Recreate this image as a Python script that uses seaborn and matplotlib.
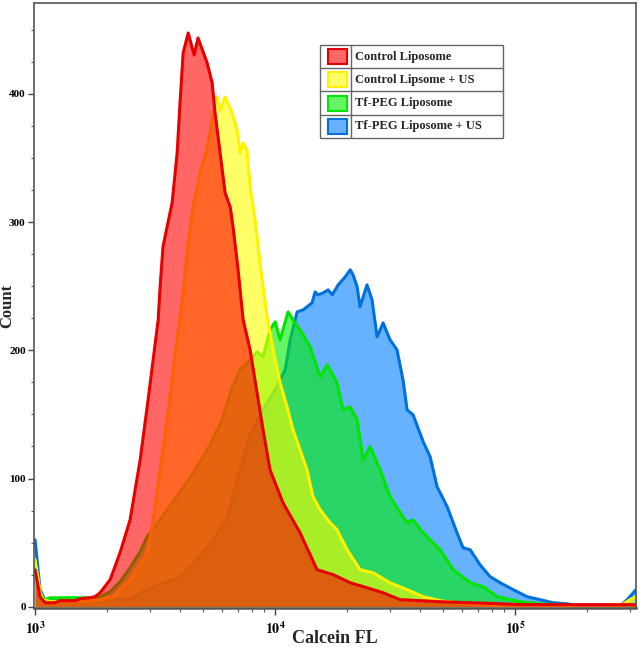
import numpy as np
import pandas as pd
import matplotlib
matplotlib.use("Agg")
import matplotlib.pyplot as plt
import seaborn as sns
from matplotlib.patches import Rectangle
from matplotlib.lines import Line2D
from matplotlib.ticker import FixedLocator, MultipleLocator, NullFormatter

sns.set_theme(style="ticks")
plt.rcParams['font.family'] = ['Liberation Serif', 'DejaVu Serif']
plt.rcParams['mathtext.fontset'] = 'stix'

# sample names (legend order)
samples = ["Control Liposome", "Control Lipsome + US", "Tf-PEG Liposome", "Tf-PEG Liposome + US"]

# histograms: log10(Calcein FL) and count
red_log = [3.000, 3.021, 3.042, 3.083, 3.104, 3.167, 3.188, 3.229, 3.250, 3.271, 3.313, 3.354,
           3.396, 3.438, 3.471, 3.492, 3.513, 3.521, 3.533, 3.550, 3.571, 3.592, 3.604, 3.617,
           3.638, 3.663, 3.679, 3.717, 3.738, 3.750, 3.771, 3.792, 3.813, 3.825, 3.846, 3.867,
           3.896, 3.950, 3.979, 4.033, 4.104, 4.175, 4.242, 4.313, 4.383, 4.450, 4.521, 4.604,
           4.688, 4.813, 4.938, 5.021, 5.504]
red_count = [28.9, 7.8, 3.1, 3.1, 4.7, 4.7, 6.2, 7.0, 7.8, 10.9, 21.1, 42.1,
             67.8, 114.6, 161.4, 192.6, 223.8, 249.5, 280.7, 296.3, 315.0, 354.0, 393.0, 432.0,
             447.6, 430.4, 443.7, 424.2, 408.6, 385.2, 354.0, 322.8, 311.9, 296.3, 262.8, 223.8,
             200.4, 138.0, 106.8, 81.1, 57.7, 28.9, 25.0, 18.7, 14.8, 10.9, 5.5, 4.7,
             3.9, 3.1, 2.3, 1.6, 1.6]

yellow_log = [3.000, 3.021, 3.033, 3.063, 3.229, 3.271, 3.325, 3.396, 3.467, 3.492, 3.521, 3.550,
              3.583, 3.617, 3.633, 3.658, 3.688, 3.717, 3.738, 3.750, 3.758, 3.771, 3.792, 3.821,
              3.842, 3.854, 3.867, 3.883, 3.896, 3.917, 3.938, 3.967, 3.992, 4.021, 4.050, 4.075,
              4.104, 4.133, 4.158, 4.188, 4.229, 4.258, 4.300, 4.354, 4.408, 4.479, 4.550, 4.617,
              4.688, 4.758, 4.854, 4.938, 5.438, 5.479, 5.504]
yellow_count = [36.6, 11.7, 5.5, 3.9, 4.7, 5.5, 7.8, 21.1, 42.1, 67.8, 106.8, 145.8,
                196.5, 244.8, 276.0, 311.9, 338.4, 358.7, 379.7, 393.0, 397.7, 387.5, 397.7, 385.2,
                371.9, 354.0, 361.8, 356.3, 327.5, 301.8, 266.7, 226.1, 200.4, 174.7, 155.9, 138.0,
                122.4, 106.8, 85.8, 75.6, 65.5, 60.0, 44.4, 28.9, 26.5, 18.7, 13.3, 7.8,
                4.7, 3.1, 1.6, 0.8, 0.8, 5.5, 7.8]

green_log = [3.000, 3.021, 3.042, 3.063, 3.229, 3.271, 3.313, 3.354, 3.396, 3.438, 3.467, 3.500,
             3.542, 3.604, 3.667, 3.729, 3.779, 3.821, 3.854, 3.896, 3.925, 3.950, 3.979, 4.000,
             4.021, 4.054, 4.083, 4.104, 4.146, 4.188, 4.217, 4.258, 4.283, 4.313, 4.342, 4.367,
             4.396, 4.438, 4.479, 4.521, 4.550, 4.575, 4.617, 4.688, 4.742, 4.813, 4.867, 4.925,
             5.021, 5.104, 5.158, 5.271, 5.504]
green_count = [32.7, 9.4, 5.5, 7.0, 7.0, 7.8, 11.7, 19.5, 30.4, 42.9, 54.6, 62.4,
               73.3, 89.7, 106.8, 126.3, 145.8, 170.8, 184.8, 192.6, 198.8, 194.9, 216.0, 222.2,
               208.2, 230.0, 221.4, 216.0, 202.7, 179.3, 188.7, 174.7, 153.6, 155.9, 145.8, 114.6,
               124.8, 106.8, 85.8, 73.3, 65.5, 67.8, 57.7, 44.4, 28.9, 18.7, 15.6, 7.8,
               3.9, 2.3, 1.6, 0.8, 0.8]

blue_log = [3.000, 3.021, 3.042, 3.271, 3.396, 3.467, 3.542, 3.604, 3.675, 3.742, 3.800, 3.854,
            3.896, 3.950, 4.000, 4.042, 4.063, 4.092, 4.117, 4.154, 4.167, 4.179, 4.200, 4.221,
            4.238, 4.263, 4.292, 4.313, 4.325, 4.342, 4.354, 4.383, 4.404, 4.425, 4.438, 4.450,
            4.479, 4.508, 4.533, 4.550, 4.575, 4.617, 4.646, 4.675, 4.717, 4.758, 4.783, 4.813,
            4.854, 4.896, 4.938, 4.992, 5.050, 5.104, 5.158, 5.217, 5.250, 5.438, 5.467, 5.504]
blue_count = [52.2, 13.3, 4.7, 4.7, 6.2, 13.3, 18.7, 23.4, 36.6, 52.2, 69.4, 106.8,
              134.1, 153.6, 169.2, 184.8, 208.2, 230.0, 231.6, 237.0, 245.6, 243.3, 244.8, 247.2,
              243.3, 251.1, 257.3, 262.8, 258.9, 249.5, 233.9, 251.1, 239.4, 210.5, 216.0, 221.4,
              208.2, 200.4, 177.0, 153.6, 149.7, 128.7, 117.0, 93.6, 78.0, 57.7, 46.0, 44.4,
              32.7, 23.4, 18.7, 13.3, 7.8, 5.5, 3.1, 2.3, 0.8, 0.8, 5.5, 13.3]

fill_colors = ["#FF0000", "#FFFF00", "#00EE00", "#0080FF"]
edge_colors = ["#E60000", "#FFF200", "#00E600", "#0070DD"]

frames = []
for name, lg, ct in zip(samples, [red_log, yellow_log, green_log, blue_log],
                        [red_count, yellow_count, green_count, blue_count]):
    frames.append(pd.DataFrame({"sample": name, "fl": 10 ** np.array(lg), "count": ct}))
df = pd.concat(frames, ignore_index=True)

fig = plt.figure(figsize=(6.44, 6.49), dpi=100)
ax = fig.add_axes([0.0528, 0.0632, 0.9348, 0.9322])
ax.set_xscale("log")

# blue at the back, red on top; each outline sits right above its own fill
for layer, i in enumerate([3, 2, 1, 0]):
    sub = df[df["sample"] == samples[i]]
    ax.fill_between(sub["fl"], sub["count"], 0, color=fill_colors[i], alpha=0.6, lw=0,
                    zorder=2 + 2 * layer)
    sns.lineplot(data=sub, x="fl", y="count", sort=False, estimator=None,
                 color=edge_colors[i], lw=2.2, ax=ax, legend=False, zorder=3 + 2 * layer)

ax.set_xlim(990, 3.19e5)
ax.set_ylim(-1, 471)

ax.xaxis.set_major_locator(FixedLocator([1e3, 1e4, 1e5]))
ax.set_xticklabels([r"$\mathbf{10^{3}}$", r"$\mathbf{10^{4}}$", r"$\mathbf{10^{5}}$"])
minor = [m * 10 ** e for e in [3, 4, 5] for m in range(2, 10)]
ax.xaxis.set_minor_locator(FixedLocator(minor))
ax.xaxis.set_minor_formatter(NullFormatter())
ax.yaxis.set_major_locator(MultipleLocator(100))
ax.yaxis.set_minor_locator(MultipleLocator(25))

ax.tick_params(axis="x", which="major", direction="out", length=5, width=1, pad=4,
               labelsize=10, colors="#444444", labelcolor="black")
ax.tick_params(axis="x", which="minor", direction="out", length=3, width=0.8, colors="#555555")
ax.tick_params(axis="y", which="major", direction="out", length=4, width=1, pad=2,
               labelsize=8, colors="#444444", labelcolor="black")
ax.tick_params(axis="y", which="minor", direction="out", length=2, width=0.8, colors="#555555")
for lab in ax.get_yticklabels():
    lab.set_fontweight("bold")

for side in ["left", "right", "top", "bottom"]:
    ax.spines[side].set_visible(True)
    ax.spines[side].set_color("#555555")
    ax.spines[side].set_linewidth(1.2)
    ax.spines[side].set_zorder(20)
ax.spines["bottom"].set_linewidth(1.8)

ax.set_xlabel("Calcein FL", fontsize=13, fontweight="bold")
ax.set_ylabel("Count", fontsize=12, fontweight="bold")
ax.xaxis.set_label_coords(0.5, -0.036)
ax.yaxis.set_label_coords(-0.031, 0.5)

# boxed legend drawn as a small table
x0, x1, xdiv = 0.475, 0.779, 0.5266
y_top, row_h = 0.9306, 0.0384
ax.add_patch(Rectangle((x0, y_top - 4 * row_h), x1 - x0, 4 * row_h, transform=ax.transAxes,
                       facecolor="white", edgecolor="#666666", lw=1.0, zorder=25))
ax.add_line(Line2D([xdiv, xdiv], [y_top, y_top - 4 * row_h], transform=ax.transAxes,
                   color="#666666", lw=1.0, zorder=26))
for k in range(4):
    yb = y_top - (k + 1) * row_h
    if k > 0:
        ax.add_line(Line2D([x0, x1], [yb + row_h, yb + row_h], transform=ax.transAxes,
                           color="#666666", lw=1.0, zorder=26))
    ax.add_patch(Rectangle((0.4884, yb + 0.0068), 0.0315, 0.0248, transform=ax.transAxes,
                           facecolor=fill_colors[k], alpha=0.6, edgecolor="none", zorder=26))
    ax.add_patch(Rectangle((0.4884, yb + 0.0068), 0.0315, 0.0248, transform=ax.transAxes,
                           facecolor="none", edgecolor=edge_colors[k], lw=1.5, zorder=27))
    ax.text(0.534, yb + row_h / 2, samples[k], transform=ax.transAxes, fontsize=9,
            fontweight="bold", va="center", ha="left", zorder=27)

fig.savefig("out.png", dpi=100)
